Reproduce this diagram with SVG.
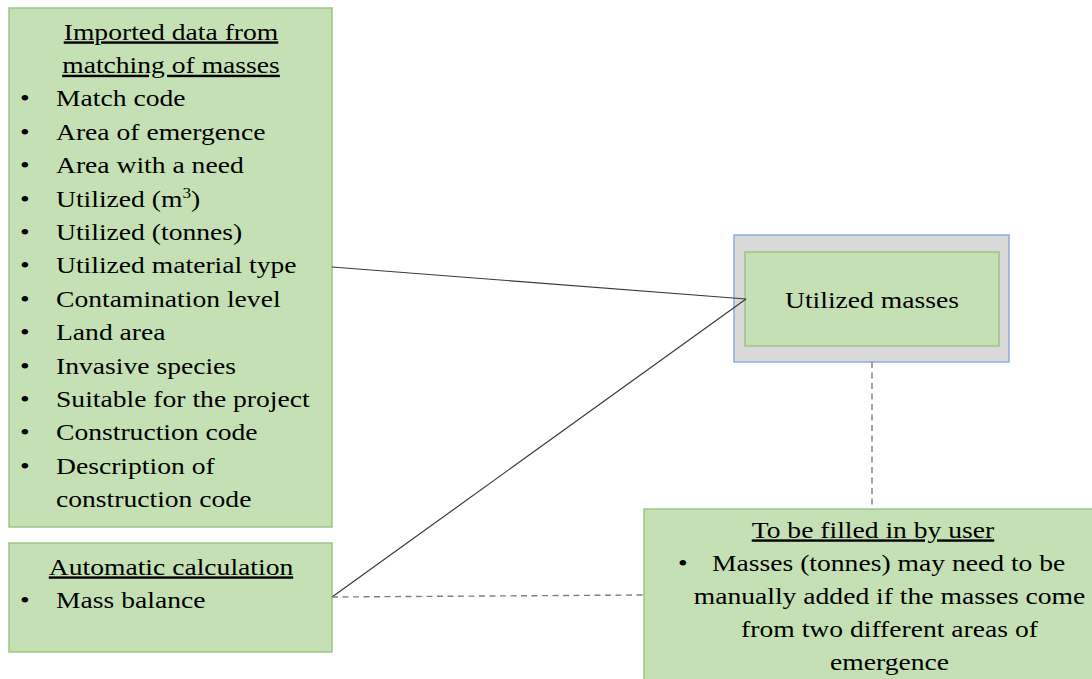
<svg xmlns="http://www.w3.org/2000/svg" width="1092" height="679" viewBox="0 0 1092 679">
<style>
.box{fill:#C5E0B4;stroke:#9DC486;stroke-width:1.5}
.outer{fill:#D9D9D9;stroke:#8FAADC;stroke-width:1.5}
text{font-family:'Liberation Serif','Times New Roman','DejaVu Serif',serif;font-size:24px;fill:#000}
.c{text-anchor:middle}
.u{text-decoration:underline}
.solid{stroke:#3A3A3A;stroke-width:1.2;fill:none}
.dash{stroke:#7F7F7F;stroke-width:1.4;stroke-dasharray:6 4.5;fill:none}
</style>
<rect width="1092" height="679" fill="#FFFFFF"/>
<g id="imported">
<rect class="box" x="9" y="8" width="323" height="519"/>
<text class="c u" transform="translate(171 39.5) scale(1.15 1)">Imported data from</text>
<text class="c u" transform="translate(171 72.9) scale(1.15 1)">matching of masses</text>
<text transform="translate(20 106.3) scale(1.15 1)">•</text>
<text transform="translate(56 106.3) scale(1.15 1)">Match code</text>
<text transform="translate(20 139.7) scale(1.15 1)">•</text>
<text transform="translate(56 139.7) scale(1.15 1)">Area of emergence</text>
<text transform="translate(20 173.1) scale(1.15 1)">•</text>
<text transform="translate(56 173.1) scale(1.15 1)">Area with a need</text>
<text transform="translate(20 206.5) scale(1.15 1)">•</text>
<text transform="translate(56 206.5) scale(1.15 1)">Utilized (m<tspan font-size="15" dy="-9">3</tspan><tspan dy="9">)</tspan></text>
<text transform="translate(20 239.9) scale(1.15 1)">•</text>
<text transform="translate(56 239.9) scale(1.15 1)">Utilized (tonnes)</text>
<text transform="translate(20 273.3) scale(1.15 1)">•</text>
<text transform="translate(56 273.3) scale(1.15 1)">Utilized material type</text>
<text transform="translate(20 306.7) scale(1.15 1)">•</text>
<text transform="translate(56 306.7) scale(1.15 1)">Contamination level</text>
<text transform="translate(20 340.1) scale(1.15 1)">•</text>
<text transform="translate(56 340.1) scale(1.15 1)">Land area</text>
<text transform="translate(20 373.5) scale(1.15 1)">•</text>
<text transform="translate(56 373.5) scale(1.15 1)">Invasive species</text>
<text transform="translate(20 406.9) scale(1.15 1)">•</text>
<text transform="translate(56 406.9) scale(1.15 1)">Suitable for the project</text>
<text transform="translate(20 440.3) scale(1.15 1)">•</text>
<text transform="translate(56 440.3) scale(1.15 1)">Construction code</text>
<text transform="translate(20 473.7) scale(1.15 1)">•</text>
<text transform="translate(56 473.7) scale(1.15 1)">Description of</text>
<text transform="translate(56 507.1) scale(1.15 1)">construction code</text>
</g>
<g id="automatic">
<rect class="box" x="9" y="543" width="323" height="109"/>
<text class="c u" transform="translate(171 574.5) scale(1.15 1)">Automatic calculation</text>
<text transform="translate(20 607.5) scale(1.15 1)">•</text>
<text transform="translate(56 607.5) scale(1.15 1)">Mass balance</text>
</g>
<g id="utilized">
<rect class="outer" x="734" y="235" width="275" height="127"/>
<rect class="box" x="745" y="252" width="254" height="94"/>
<text class="c" transform="translate(872 308) scale(1.15 1)">Utilized masses</text>
</g>
<g id="user">
<rect class="box" x="644" y="509" width="460" height="185"/>
<text class="c u" transform="translate(873 537.5) scale(1.15 1)">To be filled in by user</text>
<text transform="translate(678 570.5) scale(1.15 1)">•</text>
<text transform="translate(712 570.5) scale(1.15 1)">Masses (tonnes) may need to be</text>
<text class="c" transform="translate(889.5 603.5) scale(1.15 1)">manually added if the masses come</text>
<text class="c" transform="translate(889.5 636.5) scale(1.15 1)">from two different areas of</text>
<text class="c" transform="translate(889.5 669.5) scale(1.15 1)">emergence</text>
</g>
<g id="connectors">
<line class="solid" x1="332" y1="267" x2="746" y2="299"/>
<line class="solid" x1="332" y1="597" x2="746" y2="299"/>
<line class="dash" x1="332" y1="597" x2="643" y2="595"/>
<line class="dash" x1="872" y1="362" x2="872" y2="508"/>
</g>
</svg>
